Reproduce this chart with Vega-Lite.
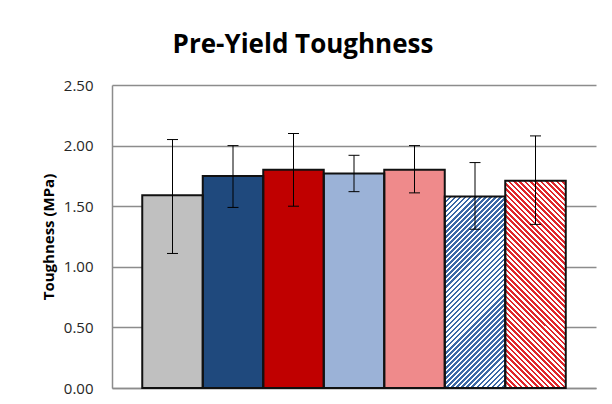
{
  "$schema": "https://vega.github.io/schema/vega-lite/v6.json",
  "width": 484,
  "height": 303,
  "autosize": "none",
  "padding": {"left": 112, "top": 85, "right": 16, "bottom": 16},
  "background": "#ffffff",
  "config": {"view": {"stroke": null}, "font": "Open Sans"},
  "title": {"text": "Pre-Yield Toughness", "anchor": "middle", "fontSize": 26, "font": "Open Sans", "fontWeight": "bold", "color": "#000000", "dx": -51, "offset": 20},
  "data": {"values": [
    {"group": "A", "value": 1.59, "lo": 1.11, "hi": 2.05},
    {"group": "B", "value": 1.75, "lo": 1.49, "hi": 2.00},
    {"group": "C", "value": 1.80, "lo": 1.50, "hi": 2.10},
    {"group": "D", "value": 1.77, "lo": 1.62, "hi": 1.92},
    {"group": "E", "value": 1.80, "lo": 1.61, "hi": 2.00},
    {"group": "F", "value": 1.58, "lo": 1.31, "hi": 1.86},
    {"group": "G", "value": 1.71, "lo": 1.35, "hi": 2.08}
  ]},
  "encoding": {
    "x": {"field": "group", "type": "nominal", "sort": null,
      "scale": {"paddingInner": 0, "paddingOuter": 0.5},
      "axis": {"title": null, "labels": false, "ticks": false, "domain": true, "domainColor": "#8c8c8c", "domainWidth": 1.5, "grid": false}}
  },
  "layer": [
    {
      "mark": {"type": "bar", "strokeWidth": 0},
      "encoding": {
        "y": {"field": "value", "type": "quantitative",
          "scale": {"domain": [0, 2.5], "nice": false},
          "axis": {"title": "Toughness (MPa)", "titleFontSize": 15, "titleFontWeight": "bold", "titleColor": "#000000", "titlePadding": 7, "titleFont": "Open Sans",
            "values": [0, 0.5, 1, 1.5, 2, 2.5], "format": ".2f", "labelFontSize": 15, "labelColor": "#262626", "labelPadding": 19, "labelFont": "Open Sans",
            "ticks": false, "domain": true, "domainColor": "#8c8c8c", "domainWidth": 1.5, "grid": true, "gridColor": "#8c8c8c", "gridWidth": 1.5}},
        "fill": {
          "condition": [
            {"test": "datum.group==='A'", "value": "#C0C0C0"},
            {"test": "datum.group==='B'", "value": "#1F497D"},
            {"test": "datum.group==='C'", "value": "#C00000"},
            {"test": "datum.group==='D'", "value": "#9BB2D7"},
            {"test": "datum.group==='E'", "value": "#EF8A8B"}
          ],
          "value": "#FFFFFF"
        }
      }
    },
    {"transform": [{"filter": "datum.group==='F'"}],
     "mark": {"type": "bar", "strokeWidth": 0, "fill": {"gradient": "linear", "x1": 0, "y1": 0, "x2": 0.0756, "y2": 0.2393, "stops": [
{"offset":0,"color":"rgba(0,0,0,0)"},{"offset":0,"color":"#3B68A6"},{"offset":0.05,"color":"#3B68A6"},{"offset":0.05,"color":"rgba(0,0,0,0)"},
{"offset":0.1,"color":"rgba(0,0,0,0)"},{"offset":0.1,"color":"#3B68A6"},{"offset":0.15,"color":"#3B68A6"},{"offset":0.15,"color":"rgba(0,0,0,0)"},
{"offset":0.2,"color":"rgba(0,0,0,0)"},{"offset":0.2,"color":"#3B68A6"},{"offset":0.25,"color":"#3B68A6"},{"offset":0.25,"color":"rgba(0,0,0,0)"},
{"offset":0.3,"color":"rgba(0,0,0,0)"},{"offset":0.3,"color":"#3B68A6"},{"offset":0.35,"color":"#3B68A6"},{"offset":0.35,"color":"rgba(0,0,0,0)"},
{"offset":0.4,"color":"rgba(0,0,0,0)"},{"offset":0.4,"color":"#3B68A6"},{"offset":0.45,"color":"#3B68A6"},{"offset":0.45,"color":"rgba(0,0,0,0)"},
{"offset":0.5,"color":"rgba(0,0,0,0)"},{"offset":0.5,"color":"#3B68A6"},{"offset":0.55,"color":"#3B68A6"},{"offset":0.55,"color":"rgba(0,0,0,0)"},
{"offset":0.6,"color":"rgba(0,0,0,0)"},{"offset":0.6,"color":"#3B68A6"},{"offset":0.65,"color":"#3B68A6"},{"offset":0.65,"color":"rgba(0,0,0,0)"},
{"offset":0.7,"color":"rgba(0,0,0,0)"},{"offset":0.7,"color":"#3B68A6"},{"offset":0.75,"color":"#3B68A6"},{"offset":0.75,"color":"rgba(0,0,0,0)"},
{"offset":0.8,"color":"rgba(0,0,0,0)"},{"offset":0.8,"color":"#3B68A6"},{"offset":0.85,"color":"#3B68A6"},{"offset":0.85,"color":"rgba(0,0,0,0)"},
{"offset":0.9,"color":"rgba(0,0,0,0)"},{"offset":0.9,"color":"#3B68A6"},{"offset":0.95,"color":"#3B68A6"},{"offset":0.95,"color":"rgba(0,0,0,0)"},
{"offset":1,"color":"rgba(0,0,0,0)"}]}},
     "encoding": {"y": {"field": "value", "type": "quantitative"}}},
    {"transform": [{"filter": "datum.group==='F'"}],
     "mark": {"type": "bar", "strokeWidth": 0, "fill": {"gradient": "linear", "x1": 0.0756, "y1": 0.2393, "x2": 0.1512, "y2": 0.4786, "stops": [
{"offset":0,"color":"rgba(0,0,0,0)"},{"offset":0,"color":"#3B68A6"},{"offset":0.05,"color":"#3B68A6"},{"offset":0.05,"color":"rgba(0,0,0,0)"},
{"offset":0.1,"color":"rgba(0,0,0,0)"},{"offset":0.1,"color":"#3B68A6"},{"offset":0.15,"color":"#3B68A6"},{"offset":0.15,"color":"rgba(0,0,0,0)"},
{"offset":0.2,"color":"rgba(0,0,0,0)"},{"offset":0.2,"color":"#3B68A6"},{"offset":0.25,"color":"#3B68A6"},{"offset":0.25,"color":"rgba(0,0,0,0)"},
{"offset":0.3,"color":"rgba(0,0,0,0)"},{"offset":0.3,"color":"#3B68A6"},{"offset":0.35,"color":"#3B68A6"},{"offset":0.35,"color":"rgba(0,0,0,0)"},
{"offset":0.4,"color":"rgba(0,0,0,0)"},{"offset":0.4,"color":"#3B68A6"},{"offset":0.45,"color":"#3B68A6"},{"offset":0.45,"color":"rgba(0,0,0,0)"},
{"offset":0.5,"color":"rgba(0,0,0,0)"},{"offset":0.5,"color":"#3B68A6"},{"offset":0.55,"color":"#3B68A6"},{"offset":0.55,"color":"rgba(0,0,0,0)"},
{"offset":0.6,"color":"rgba(0,0,0,0)"},{"offset":0.6,"color":"#3B68A6"},{"offset":0.65,"color":"#3B68A6"},{"offset":0.65,"color":"rgba(0,0,0,0)"},
{"offset":0.7,"color":"rgba(0,0,0,0)"},{"offset":0.7,"color":"#3B68A6"},{"offset":0.75,"color":"#3B68A6"},{"offset":0.75,"color":"rgba(0,0,0,0)"},
{"offset":0.8,"color":"rgba(0,0,0,0)"},{"offset":0.8,"color":"#3B68A6"},{"offset":0.85,"color":"#3B68A6"},{"offset":0.85,"color":"rgba(0,0,0,0)"},
{"offset":0.9,"color":"rgba(0,0,0,0)"},{"offset":0.9,"color":"#3B68A6"},{"offset":0.95,"color":"#3B68A6"},{"offset":0.95,"color":"rgba(0,0,0,0)"},
{"offset":1,"color":"rgba(0,0,0,0)"}]}},
     "encoding": {"y": {"field": "value", "type": "quantitative"}}},
    {"transform": [{"filter": "datum.group==='F'"}],
     "mark": {"type": "bar", "strokeWidth": 0, "fill": {"gradient": "linear", "x1": 0.1512, "y1": 0.4786, "x2": 0.2268, "y2": 0.7179, "stops": [
{"offset":0,"color":"rgba(0,0,0,0)"},{"offset":0,"color":"#3B68A6"},{"offset":0.05,"color":"#3B68A6"},{"offset":0.05,"color":"rgba(0,0,0,0)"},
{"offset":0.1,"color":"rgba(0,0,0,0)"},{"offset":0.1,"color":"#3B68A6"},{"offset":0.15,"color":"#3B68A6"},{"offset":0.15,"color":"rgba(0,0,0,0)"},
{"offset":0.2,"color":"rgba(0,0,0,0)"},{"offset":0.2,"color":"#3B68A6"},{"offset":0.25,"color":"#3B68A6"},{"offset":0.25,"color":"rgba(0,0,0,0)"},
{"offset":0.3,"color":"rgba(0,0,0,0)"},{"offset":0.3,"color":"#3B68A6"},{"offset":0.35,"color":"#3B68A6"},{"offset":0.35,"color":"rgba(0,0,0,0)"},
{"offset":0.4,"color":"rgba(0,0,0,0)"},{"offset":0.4,"color":"#3B68A6"},{"offset":0.45,"color":"#3B68A6"},{"offset":0.45,"color":"rgba(0,0,0,0)"},
{"offset":0.5,"color":"rgba(0,0,0,0)"},{"offset":0.5,"color":"#3B68A6"},{"offset":0.55,"color":"#3B68A6"},{"offset":0.55,"color":"rgba(0,0,0,0)"},
{"offset":0.6,"color":"rgba(0,0,0,0)"},{"offset":0.6,"color":"#3B68A6"},{"offset":0.65,"color":"#3B68A6"},{"offset":0.65,"color":"rgba(0,0,0,0)"},
{"offset":0.7,"color":"rgba(0,0,0,0)"},{"offset":0.7,"color":"#3B68A6"},{"offset":0.75,"color":"#3B68A6"},{"offset":0.75,"color":"rgba(0,0,0,0)"},
{"offset":0.8,"color":"rgba(0,0,0,0)"},{"offset":0.8,"color":"#3B68A6"},{"offset":0.85,"color":"#3B68A6"},{"offset":0.85,"color":"rgba(0,0,0,0)"},
{"offset":0.9,"color":"rgba(0,0,0,0)"},{"offset":0.9,"color":"#3B68A6"},{"offset":0.95,"color":"#3B68A6"},{"offset":0.95,"color":"rgba(0,0,0,0)"},
{"offset":1,"color":"rgba(0,0,0,0)"}]}},
     "encoding": {"y": {"field": "value", "type": "quantitative"}}},
    {"transform": [{"filter": "datum.group==='F'"}],
     "mark": {"type": "bar", "strokeWidth": 0, "fill": {"gradient": "linear", "x1": 0.2268, "y1": 0.7179, "x2": 0.3024, "y2": 0.9572, "stops": [
{"offset":0,"color":"rgba(0,0,0,0)"},{"offset":0,"color":"#3B68A6"},{"offset":0.05,"color":"#3B68A6"},{"offset":0.05,"color":"rgba(0,0,0,0)"},
{"offset":0.1,"color":"rgba(0,0,0,0)"},{"offset":0.1,"color":"#3B68A6"},{"offset":0.15,"color":"#3B68A6"},{"offset":0.15,"color":"rgba(0,0,0,0)"},
{"offset":0.2,"color":"rgba(0,0,0,0)"},{"offset":0.2,"color":"#3B68A6"},{"offset":0.25,"color":"#3B68A6"},{"offset":0.25,"color":"rgba(0,0,0,0)"},
{"offset":0.3,"color":"rgba(0,0,0,0)"},{"offset":0.3,"color":"#3B68A6"},{"offset":0.35,"color":"#3B68A6"},{"offset":0.35,"color":"rgba(0,0,0,0)"},
{"offset":0.4,"color":"rgba(0,0,0,0)"},{"offset":0.4,"color":"#3B68A6"},{"offset":0.45,"color":"#3B68A6"},{"offset":0.45,"color":"rgba(0,0,0,0)"},
{"offset":0.5,"color":"rgba(0,0,0,0)"},{"offset":0.5,"color":"#3B68A6"},{"offset":0.55,"color":"#3B68A6"},{"offset":0.55,"color":"rgba(0,0,0,0)"},
{"offset":0.6,"color":"rgba(0,0,0,0)"},{"offset":0.6,"color":"#3B68A6"},{"offset":0.65,"color":"#3B68A6"},{"offset":0.65,"color":"rgba(0,0,0,0)"},
{"offset":0.7,"color":"rgba(0,0,0,0)"},{"offset":0.7,"color":"#3B68A6"},{"offset":0.75,"color":"#3B68A6"},{"offset":0.75,"color":"rgba(0,0,0,0)"},
{"offset":0.8,"color":"rgba(0,0,0,0)"},{"offset":0.8,"color":"#3B68A6"},{"offset":0.85,"color":"#3B68A6"},{"offset":0.85,"color":"rgba(0,0,0,0)"},
{"offset":0.9,"color":"rgba(0,0,0,0)"},{"offset":0.9,"color":"#3B68A6"},{"offset":0.95,"color":"#3B68A6"},{"offset":0.95,"color":"rgba(0,0,0,0)"},
{"offset":1,"color":"rgba(0,0,0,0)"}]}},
     "encoding": {"y": {"field": "value", "type": "quantitative"}}},
    {"transform": [{"filter": "datum.group==='F'"}],
     "mark": {"type": "bar", "strokeWidth": 0, "fill": {"gradient": "linear", "x1": 0.3024, "y1": 0.9572, "x2": 0.378, "y2": 1.1965, "stops": [
{"offset":0,"color":"rgba(0,0,0,0)"},{"offset":0,"color":"#3B68A6"},{"offset":0.05,"color":"#3B68A6"},{"offset":0.05,"color":"rgba(0,0,0,0)"},
{"offset":0.1,"color":"rgba(0,0,0,0)"},{"offset":0.1,"color":"#3B68A6"},{"offset":0.15,"color":"#3B68A6"},{"offset":0.15,"color":"rgba(0,0,0,0)"},
{"offset":0.2,"color":"rgba(0,0,0,0)"},{"offset":0.2,"color":"#3B68A6"},{"offset":0.25,"color":"#3B68A6"},{"offset":0.25,"color":"rgba(0,0,0,0)"},
{"offset":0.3,"color":"rgba(0,0,0,0)"},{"offset":0.3,"color":"#3B68A6"},{"offset":0.35,"color":"#3B68A6"},{"offset":0.35,"color":"rgba(0,0,0,0)"},
{"offset":0.4,"color":"rgba(0,0,0,0)"},{"offset":0.4,"color":"#3B68A6"},{"offset":0.45,"color":"#3B68A6"},{"offset":0.45,"color":"rgba(0,0,0,0)"},
{"offset":0.5,"color":"rgba(0,0,0,0)"},{"offset":0.5,"color":"#3B68A6"},{"offset":0.55,"color":"#3B68A6"},{"offset":0.55,"color":"rgba(0,0,0,0)"},
{"offset":0.6,"color":"rgba(0,0,0,0)"},{"offset":0.6,"color":"#3B68A6"},{"offset":0.65,"color":"#3B68A6"},{"offset":0.65,"color":"rgba(0,0,0,0)"},
{"offset":0.7,"color":"rgba(0,0,0,0)"},{"offset":0.7,"color":"#3B68A6"},{"offset":0.75,"color":"#3B68A6"},{"offset":0.75,"color":"rgba(0,0,0,0)"},
{"offset":0.8,"color":"rgba(0,0,0,0)"},{"offset":0.8,"color":"#3B68A6"},{"offset":0.85,"color":"#3B68A6"},{"offset":0.85,"color":"rgba(0,0,0,0)"},
{"offset":0.9,"color":"rgba(0,0,0,0)"},{"offset":0.9,"color":"#3B68A6"},{"offset":0.95,"color":"#3B68A6"},{"offset":0.95,"color":"rgba(0,0,0,0)"},
{"offset":1,"color":"rgba(0,0,0,0)"}]}},
     "encoding": {"y": {"field": "value", "type": "quantitative"}}},
    {"transform": [{"filter": "datum.group==='G'"}],
     "mark": {"type": "bar", "strokeWidth": 0, "fill": {"gradient": "linear", "x1": 0, "y1": 1, "x2": 0.0695, "y2": 0.7619, "stops": [
{"offset":0,"color":"rgba(0,0,0,0)"},{"offset":0,"color":"#E0262B"},{"offset":0.05,"color":"#E0262B"},{"offset":0.05,"color":"rgba(0,0,0,0)"},
{"offset":0.1,"color":"rgba(0,0,0,0)"},{"offset":0.1,"color":"#E0262B"},{"offset":0.15,"color":"#E0262B"},{"offset":0.15,"color":"rgba(0,0,0,0)"},
{"offset":0.2,"color":"rgba(0,0,0,0)"},{"offset":0.2,"color":"#E0262B"},{"offset":0.25,"color":"#E0262B"},{"offset":0.25,"color":"rgba(0,0,0,0)"},
{"offset":0.3,"color":"rgba(0,0,0,0)"},{"offset":0.3,"color":"#E0262B"},{"offset":0.35,"color":"#E0262B"},{"offset":0.35,"color":"rgba(0,0,0,0)"},
{"offset":0.4,"color":"rgba(0,0,0,0)"},{"offset":0.4,"color":"#E0262B"},{"offset":0.45,"color":"#E0262B"},{"offset":0.45,"color":"rgba(0,0,0,0)"},
{"offset":0.5,"color":"rgba(0,0,0,0)"},{"offset":0.5,"color":"#E0262B"},{"offset":0.55,"color":"#E0262B"},{"offset":0.55,"color":"rgba(0,0,0,0)"},
{"offset":0.6,"color":"rgba(0,0,0,0)"},{"offset":0.6,"color":"#E0262B"},{"offset":0.65,"color":"#E0262B"},{"offset":0.65,"color":"rgba(0,0,0,0)"},
{"offset":0.7,"color":"rgba(0,0,0,0)"},{"offset":0.7,"color":"#E0262B"},{"offset":0.75,"color":"#E0262B"},{"offset":0.75,"color":"rgba(0,0,0,0)"},
{"offset":0.8,"color":"rgba(0,0,0,0)"},{"offset":0.8,"color":"#E0262B"},{"offset":0.85,"color":"#E0262B"},{"offset":0.85,"color":"rgba(0,0,0,0)"},
{"offset":0.9,"color":"rgba(0,0,0,0)"},{"offset":0.9,"color":"#E0262B"},{"offset":0.95,"color":"#E0262B"},{"offset":0.95,"color":"rgba(0,0,0,0)"},
{"offset":1,"color":"rgba(0,0,0,0)"}]}},
     "encoding": {"y": {"field": "value", "type": "quantitative"}}},
    {"transform": [{"filter": "datum.group==='G'"}],
     "mark": {"type": "bar", "strokeWidth": 0, "fill": {"gradient": "linear", "x1": 0.0695, "y1": 0.7619, "x2": 0.139, "y2": 0.5238, "stops": [
{"offset":0,"color":"rgba(0,0,0,0)"},{"offset":0,"color":"#E0262B"},{"offset":0.05,"color":"#E0262B"},{"offset":0.05,"color":"rgba(0,0,0,0)"},
{"offset":0.1,"color":"rgba(0,0,0,0)"},{"offset":0.1,"color":"#E0262B"},{"offset":0.15,"color":"#E0262B"},{"offset":0.15,"color":"rgba(0,0,0,0)"},
{"offset":0.2,"color":"rgba(0,0,0,0)"},{"offset":0.2,"color":"#E0262B"},{"offset":0.25,"color":"#E0262B"},{"offset":0.25,"color":"rgba(0,0,0,0)"},
{"offset":0.3,"color":"rgba(0,0,0,0)"},{"offset":0.3,"color":"#E0262B"},{"offset":0.35,"color":"#E0262B"},{"offset":0.35,"color":"rgba(0,0,0,0)"},
{"offset":0.4,"color":"rgba(0,0,0,0)"},{"offset":0.4,"color":"#E0262B"},{"offset":0.45,"color":"#E0262B"},{"offset":0.45,"color":"rgba(0,0,0,0)"},
{"offset":0.5,"color":"rgba(0,0,0,0)"},{"offset":0.5,"color":"#E0262B"},{"offset":0.55,"color":"#E0262B"},{"offset":0.55,"color":"rgba(0,0,0,0)"},
{"offset":0.6,"color":"rgba(0,0,0,0)"},{"offset":0.6,"color":"#E0262B"},{"offset":0.65,"color":"#E0262B"},{"offset":0.65,"color":"rgba(0,0,0,0)"},
{"offset":0.7,"color":"rgba(0,0,0,0)"},{"offset":0.7,"color":"#E0262B"},{"offset":0.75,"color":"#E0262B"},{"offset":0.75,"color":"rgba(0,0,0,0)"},
{"offset":0.8,"color":"rgba(0,0,0,0)"},{"offset":0.8,"color":"#E0262B"},{"offset":0.85,"color":"#E0262B"},{"offset":0.85,"color":"rgba(0,0,0,0)"},
{"offset":0.9,"color":"rgba(0,0,0,0)"},{"offset":0.9,"color":"#E0262B"},{"offset":0.95,"color":"#E0262B"},{"offset":0.95,"color":"rgba(0,0,0,0)"},
{"offset":1,"color":"rgba(0,0,0,0)"}]}},
     "encoding": {"y": {"field": "value", "type": "quantitative"}}},
    {"transform": [{"filter": "datum.group==='G'"}],
     "mark": {"type": "bar", "strokeWidth": 0, "fill": {"gradient": "linear", "x1": 0.139, "y1": 0.5238, "x2": 0.2085, "y2": 0.2857, "stops": [
{"offset":0,"color":"rgba(0,0,0,0)"},{"offset":0,"color":"#E0262B"},{"offset":0.05,"color":"#E0262B"},{"offset":0.05,"color":"rgba(0,0,0,0)"},
{"offset":0.1,"color":"rgba(0,0,0,0)"},{"offset":0.1,"color":"#E0262B"},{"offset":0.15,"color":"#E0262B"},{"offset":0.15,"color":"rgba(0,0,0,0)"},
{"offset":0.2,"color":"rgba(0,0,0,0)"},{"offset":0.2,"color":"#E0262B"},{"offset":0.25,"color":"#E0262B"},{"offset":0.25,"color":"rgba(0,0,0,0)"},
{"offset":0.3,"color":"rgba(0,0,0,0)"},{"offset":0.3,"color":"#E0262B"},{"offset":0.35,"color":"#E0262B"},{"offset":0.35,"color":"rgba(0,0,0,0)"},
{"offset":0.4,"color":"rgba(0,0,0,0)"},{"offset":0.4,"color":"#E0262B"},{"offset":0.45,"color":"#E0262B"},{"offset":0.45,"color":"rgba(0,0,0,0)"},
{"offset":0.5,"color":"rgba(0,0,0,0)"},{"offset":0.5,"color":"#E0262B"},{"offset":0.55,"color":"#E0262B"},{"offset":0.55,"color":"rgba(0,0,0,0)"},
{"offset":0.6,"color":"rgba(0,0,0,0)"},{"offset":0.6,"color":"#E0262B"},{"offset":0.65,"color":"#E0262B"},{"offset":0.65,"color":"rgba(0,0,0,0)"},
{"offset":0.7,"color":"rgba(0,0,0,0)"},{"offset":0.7,"color":"#E0262B"},{"offset":0.75,"color":"#E0262B"},{"offset":0.75,"color":"rgba(0,0,0,0)"},
{"offset":0.8,"color":"rgba(0,0,0,0)"},{"offset":0.8,"color":"#E0262B"},{"offset":0.85,"color":"#E0262B"},{"offset":0.85,"color":"rgba(0,0,0,0)"},
{"offset":0.9,"color":"rgba(0,0,0,0)"},{"offset":0.9,"color":"#E0262B"},{"offset":0.95,"color":"#E0262B"},{"offset":0.95,"color":"rgba(0,0,0,0)"},
{"offset":1,"color":"rgba(0,0,0,0)"}]}},
     "encoding": {"y": {"field": "value", "type": "quantitative"}}},
    {"transform": [{"filter": "datum.group==='G'"}],
     "mark": {"type": "bar", "strokeWidth": 0, "fill": {"gradient": "linear", "x1": 0.2085, "y1": 0.2857, "x2": 0.278, "y2": 0.0476, "stops": [
{"offset":0,"color":"rgba(0,0,0,0)"},{"offset":0,"color":"#E0262B"},{"offset":0.05,"color":"#E0262B"},{"offset":0.05,"color":"rgba(0,0,0,0)"},
{"offset":0.1,"color":"rgba(0,0,0,0)"},{"offset":0.1,"color":"#E0262B"},{"offset":0.15,"color":"#E0262B"},{"offset":0.15,"color":"rgba(0,0,0,0)"},
{"offset":0.2,"color":"rgba(0,0,0,0)"},{"offset":0.2,"color":"#E0262B"},{"offset":0.25,"color":"#E0262B"},{"offset":0.25,"color":"rgba(0,0,0,0)"},
{"offset":0.3,"color":"rgba(0,0,0,0)"},{"offset":0.3,"color":"#E0262B"},{"offset":0.35,"color":"#E0262B"},{"offset":0.35,"color":"rgba(0,0,0,0)"},
{"offset":0.4,"color":"rgba(0,0,0,0)"},{"offset":0.4,"color":"#E0262B"},{"offset":0.45,"color":"#E0262B"},{"offset":0.45,"color":"rgba(0,0,0,0)"},
{"offset":0.5,"color":"rgba(0,0,0,0)"},{"offset":0.5,"color":"#E0262B"},{"offset":0.55,"color":"#E0262B"},{"offset":0.55,"color":"rgba(0,0,0,0)"},
{"offset":0.6,"color":"rgba(0,0,0,0)"},{"offset":0.6,"color":"#E0262B"},{"offset":0.65,"color":"#E0262B"},{"offset":0.65,"color":"rgba(0,0,0,0)"},
{"offset":0.7,"color":"rgba(0,0,0,0)"},{"offset":0.7,"color":"#E0262B"},{"offset":0.75,"color":"#E0262B"},{"offset":0.75,"color":"rgba(0,0,0,0)"},
{"offset":0.8,"color":"rgba(0,0,0,0)"},{"offset":0.8,"color":"#E0262B"},{"offset":0.85,"color":"#E0262B"},{"offset":0.85,"color":"rgba(0,0,0,0)"},
{"offset":0.9,"color":"rgba(0,0,0,0)"},{"offset":0.9,"color":"#E0262B"},{"offset":0.95,"color":"#E0262B"},{"offset":0.95,"color":"rgba(0,0,0,0)"},
{"offset":1,"color":"rgba(0,0,0,0)"}]}},
     "encoding": {"y": {"field": "value", "type": "quantitative"}}},
    {"transform": [{"filter": "datum.group==='G'"}],
     "mark": {"type": "bar", "strokeWidth": 0, "fill": {"gradient": "linear", "x1": 0.278, "y1": 0.0476, "x2": 0.3475, "y2": -0.1905, "stops": [
{"offset":0,"color":"rgba(0,0,0,0)"},{"offset":0,"color":"#E0262B"},{"offset":0.05,"color":"#E0262B"},{"offset":0.05,"color":"rgba(0,0,0,0)"},
{"offset":0.1,"color":"rgba(0,0,0,0)"},{"offset":0.1,"color":"#E0262B"},{"offset":0.15,"color":"#E0262B"},{"offset":0.15,"color":"rgba(0,0,0,0)"},
{"offset":0.2,"color":"rgba(0,0,0,0)"},{"offset":0.2,"color":"#E0262B"},{"offset":0.25,"color":"#E0262B"},{"offset":0.25,"color":"rgba(0,0,0,0)"},
{"offset":0.3,"color":"rgba(0,0,0,0)"},{"offset":0.3,"color":"#E0262B"},{"offset":0.35,"color":"#E0262B"},{"offset":0.35,"color":"rgba(0,0,0,0)"},
{"offset":0.4,"color":"rgba(0,0,0,0)"},{"offset":0.4,"color":"#E0262B"},{"offset":0.45,"color":"#E0262B"},{"offset":0.45,"color":"rgba(0,0,0,0)"},
{"offset":0.5,"color":"rgba(0,0,0,0)"},{"offset":0.5,"color":"#E0262B"},{"offset":0.55,"color":"#E0262B"},{"offset":0.55,"color":"rgba(0,0,0,0)"},
{"offset":0.6,"color":"rgba(0,0,0,0)"},{"offset":0.6,"color":"#E0262B"},{"offset":0.65,"color":"#E0262B"},{"offset":0.65,"color":"rgba(0,0,0,0)"},
{"offset":0.7,"color":"rgba(0,0,0,0)"},{"offset":0.7,"color":"#E0262B"},{"offset":0.75,"color":"#E0262B"},{"offset":0.75,"color":"rgba(0,0,0,0)"},
{"offset":0.8,"color":"rgba(0,0,0,0)"},{"offset":0.8,"color":"#E0262B"},{"offset":0.85,"color":"#E0262B"},{"offset":0.85,"color":"rgba(0,0,0,0)"},
{"offset":0.9,"color":"rgba(0,0,0,0)"},{"offset":0.9,"color":"#E0262B"},{"offset":0.95,"color":"#E0262B"},{"offset":0.95,"color":"rgba(0,0,0,0)"},
{"offset":1,"color":"rgba(0,0,0,0)"}]}},
     "encoding": {"y": {"field": "value", "type": "quantitative"}}},
    {
      "mark": {"type": "bar", "fill": "transparent", "stroke": "#111111", "strokeWidth": 2},
      "encoding": {"y": {"field": "value", "type": "quantitative"}}
    },
    {
      "mark": {"type": "rule", "color": "#000000", "strokeWidth": 1},
      "encoding": {"y": {"field": "lo", "type": "quantitative"}, "y2": {"field": "hi"}}
    },
    {
      "mark": {"type": "tick", "color": "#000000", "thickness": 1, "size": 11, "opacity": 1},
      "encoding": {"y": {"field": "lo", "type": "quantitative"}}
    },
    {
      "mark": {"type": "tick", "color": "#000000", "thickness": 1, "size": 11, "opacity": 1},
      "encoding": {"y": {"field": "hi", "type": "quantitative"}}
    }
  ]
}
